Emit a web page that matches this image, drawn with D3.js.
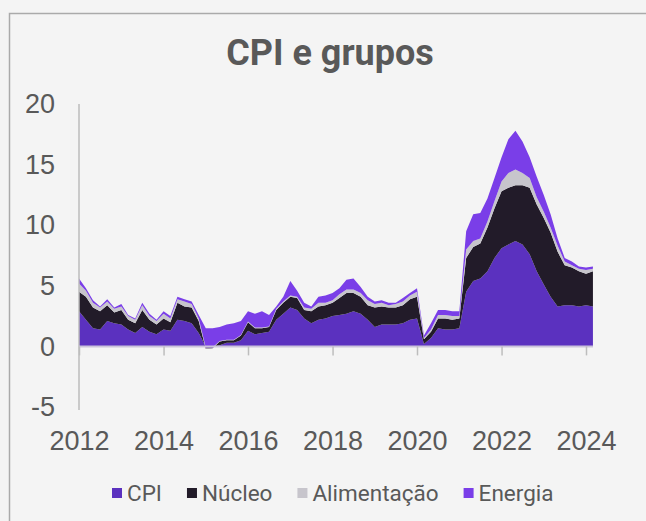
<!DOCTYPE html>
<html>
<head>
<meta charset="utf-8">
<script src="https://cdn.jsdelivr.net/npm/d3@7"></script>
<style>
  body { margin: 0; background: #f4f4f4; }
  svg { display: block; font-family: Roboto, "Noto Sans", sans-serif; }
</style>
</head>
<body>
<script>
// bimonthly readings, Jan 2012 .. Mar 2024 (layer thickness of each group)
var cpi = [2.9, 2.2, 1.5, 1.4, 2.1, 1.9, 1.8, 1.4, 1.1, 1.6,
  1.2, 1.0, 1.4, 1.3, 2.2, 2.1, 1.9, 1.1, 0.0, 0.0,
  0.1, 0.3, 0.3, 0.5, 1.3, 1.0, 1.1, 1.2, 2.2, 2.7,
  3.2, 3.0, 2.3, 1.9, 2.2, 2.3, 2.5, 2.6, 2.7, 2.9,
  2.7, 2.2, 1.6, 1.8, 1.8, 1.8, 1.9, 2.2, 2.3, 0.2,
  0.7, 1.5, 1.4, 1.4, 1.5, 4.5, 5.4, 5.6, 6.2, 7.3,
  8.1, 8.4, 8.7, 8.4, 7.6, 6.2, 5.1, 4.1, 3.3, 3.4,
  3.4, 3.3, 3.4, 3.3];
var nucleo = [1.6, 1.9, 1.7, 1.5, 1.3, 0.9, 1.2, 0.8, 0.8, 1.4,
  1.0, 0.8, 0.9, 0.7, 1.4, 1.2, 1.3, 1.0, -0.2, -0.15,
  0.3, 0.2, 0.2, 0.4, 0.7, 0.5, 0.4, 0.4, 0.8, 0.9,
  0.9, 1.0, 0.7, 1.0, 1.1, 1.1, 1.1, 1.4, 1.7, 1.5,
  1.4, 1.2, 1.6, 1.5, 1.4, 1.4, 1.5, 1.7, 1.8, 0.4,
  0.5, 0.8, 0.9, 0.8, 0.8, 2.8, 2.8, 2.9, 3.6, 4.1,
  4.7, 4.7, 4.6, 4.9, 5.5, 5.5, 5.5, 5.3, 4.5, 3.3,
  3.1, 2.9, 2.6, 2.9];
var alimentacao = [0.7, 0.5, 0.4, 0.3, 0.3, 0.3, 0.3, 0.3, 0.3, 0.4,
  0.3, 0.3, 0.4, 0.3, 0.3, 0.4, 0.3, 0.2, 0.1, 0.05,
  0.05, 0.05, 0.05, 0.05, 0.05, 0.05, 0.05, 0.05, 0.1, 0.1,
  0.1, 0.1, 0.2, 0.2, 0.3, 0.2, 0.2, 0.3, 0.3, 0.3,
  0.3, 0.4, 0.3, 0.3, 0.2, 0.3, 0.3, 0.3, 0.4, 0.1,
  0.2, 0.3, 0.3, 0.3, 0.2, 0.7, 0.5, 0.4, 0.5, 0.6,
  0.8, 1.2, 1.3, 1.0, 0.8, 0.6, 0.5, 0.4, 0.5, 0.3,
  0.2, 0.2, 0.3, 0.2];
var energia = [0.4, 0.2, 0.2, 0.1, 0.2, 0.1, 0.2, 0.1, 0.1, 0.2,
  0.2, 0.1, 0.2, 0.2, 0.2, 0.2, 0.2, 0.3, 1.6, 1.6,
  1.15, 1.25, 1.35, 1.15, 0.85, 1.15, 1.35, 0.95, 0.2, 0.4,
  1.2, 0.5, 0.4, 0.2, 0.5, 0.6, 0.6, 0.5, 0.8, 0.9,
  0.5, 0.3, 0.2, 0.2, 0.2, 0.1, 0.3, 0.2, 0.3, 0.2,
  0.5, 0.4, 0.4, 0.4, 0.4, 1.5, 2.2, 2.1, 1.9, 1.9,
  2.0, 2.8, 3.2, 2.6, 1.7, 1.7, 1.4, 1.1, 0.6, 0.3,
  0.3, 0.2, 0.2, 0.2];

var seriesNames = ['CPI', 'Núcleo', 'Alimentação', 'Energia'];
var seriesColors = ['#5b31bf', '#221b29', '#c7c5cc', '#7a3ee8'];
var yTicks = [-5, 0, 5, 10, 15, 20];
var xYears = [2012, 2014, 2016, 2018, 2020, 2022, 2024];

var width = 646, height = 521;

var dates = d3.timeMonth.every(2).range(new Date(2012, 0, 1), new Date(2024, 3, 1));
var rows = dates.map(function (d, i) {
  var r = { date: d };
  r['CPI'] = cpi[i];
  r['Núcleo'] = nucleo[i];
  r['Alimentação'] = alimentacao[i];
  r['Energia'] = energia[i];
  return r;
});

var stacked = d3.stack().keys(seriesNames)(rows);

var svg = d3.select("body").append("svg")
  .attr("width", width)
  .attr("height", height);

svg.append("rect")
  .attr("width", width).attr("height", height)
  .attr("fill", "#f4f4f4");

// frame (right and bottom edges fall outside the picture)
svg.append("rect")
  .attr("x", 9.5).attr("y", 13.5)
  .attr("width", 700).attr("height", 600)
  .attr("fill", "none")
  .attr("stroke", "#aaaaaa")
  .attr("stroke-width", 1.5);

var x = d3.scaleTime()
  .domain([new Date(2012, 0, 1), new Date(2024, 0, 1)])
  .range([79, 586]);

var y = d3.scaleLinear()
  .domain([-5, 20])
  .range([407, 104]);

var area = d3.area()
  .x(function (d) { return x(d.data.date); })
  .y0(function (d) { return y(d[0]); })
  .y1(function (d) { return y(d[1]); });

svg.selectAll(".layer")
  .data(stacked)
  .enter().append("path")
  .attr("class", "layer")
  .attr("fill", function (d, i) { return seriesColors[i]; })
  .attr("d", area);

// y axis
var yAxis = d3.axisLeft(y)
  .tickValues(yTicks)
  .tickSize(0)
  .tickSizeOuter(0)
  .tickPadding(24)
  .tickFormat(function (d) { return String(d); });

var gy = svg.append("g")
  .attr("transform", "translate(79,0)")
  .call(yAxis);
gy.select(".domain").attr("stroke", "#bdbdbd").attr("stroke-width", 1.5)
  .attr("d", "M0," + y(20) + "V" + (y(-5) + 3));
gy.selectAll("text").attr("fill", "#595959").style("font-size", "27px");

// zero line with ticks
var xTicks = xYears.map(function (yr) { return new Date(yr, 0, 1); });
var xAxis = d3.axisBottom(x)
  .tickValues(xTicks)
  .tickSize(9)
  .tickSizeOuter(0)
  .tickFormat("");

var gx = svg.append("g")
  .attr("transform", "translate(0," + y(0) + ")")
  .call(xAxis);
gx.select(".domain").attr("stroke", "#cbc4db").attr("stroke-width", 2)
  .attr("d", "M79,0H" + x(dates[dates.length - 1]));
gx.selectAll(".tick line").attr("stroke", "#bdbdbd").attr("stroke-width", 1.5);

// year labels at the bottom of the plot
var xLabels = d3.axisBottom(x)
  .tickValues(xTicks)
  .tickSize(0)
  .tickPadding(0)
  .tickFormat(d3.timeFormat("%Y"));

var gl = svg.append("g")
  .attr("transform", "translate(0,431)")
  .call(xLabels);
gl.select(".domain").remove();
gl.selectAll("text").attr("fill", "#595959").style("font-size", "27px");

// title
svg.append("text")
  .attr("x", 330)
  .attr("y", 65)
  .attr("text-anchor", "middle")
  .attr("fill", "#595959")
  .style("font-size", "36px")
  .style("font-weight", "bold")
  .text("CPI e grupos");

// legend
var legend = svg.append("g").attr("transform", "translate(112,493)");
var lx = 0;
seriesNames.forEach(function (name, i) {
  var item = legend.append("g").attr("transform", "translate(" + lx + ",0)");
  item.append("rect")
    .attr("x", 0).attr("y", -5)
    .attr("width", 10).attr("height", 10)
    .attr("fill", seriesColors[i]);
  var t = item.append("text")
    .attr("x", 15)
    .attr("dy", "0.35em")
    .attr("fill", "#595959")
    .style("font-size", "22.5px")
    .text(name);
  lx += 15 + t.node().getComputedTextLength() + 25;
});
</script>
</body>
</html>
